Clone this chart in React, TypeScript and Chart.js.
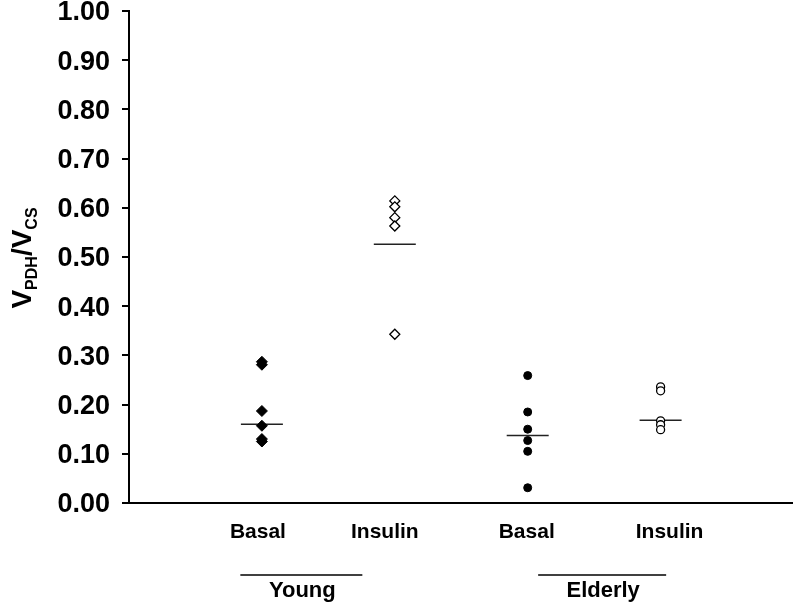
import React, { useEffect, useRef } from "react";
import { Chart, registerables } from "chart.js";

Chart.register(...registerables);

const categories = ["Basal", "Insulin", "Basal", "Insulin"];
const groups = ["Young", "Elderly"];
const youngBasal = [0.287, 0.281, 0.187, 0.157, 0.13, 0.125];
const youngInsulin = [0.614, 0.602, 0.58, 0.563, 0.343];
const elderlyBasal = [0.259, 0.185, 0.15, 0.127, 0.105, 0.031];
const elderlyInsulin = [0.236, 0.228, 0.167, 0.159, 0.149];
const meanValues = [0.16, 0.526, 0.137, 0.168];
const yMin = 0;
const yMax = 1;
const yStep = 0.1;

const FONT = "'Liberation Sans', Arial, Helvetica, sans-serif";

const decorPlugin = {
  id: "decor",
  afterDraw(chart: any) {
    const ctx = chart.ctx;
    const xs = chart.scales.x;
    ctx.save();
    ctx.fillStyle = "#000";
    ctx.strokeStyle = "#000";
    // category labels
    const catOffsets = [-4, -10, -1, 9];
    ctx.font = `bold 21px ${FONT}`;
    ctx.textAlign = "center";
    ctx.textBaseline = "middle";
    categories.forEach((c, i) => {
      ctx.fillText(c, xs.getPixelForValue(i + 1) + catOffsets[i], 532);
    });
    // group lines and labels
    const groupCenterOffsets = [-27, 8];
    const groupHalfWidths = [61, 64];
    groups.forEach((g, gi) => {
      const mid = (xs.getPixelForValue(gi * 2 + 1) + xs.getPixelForValue(gi * 2 + 2)) / 2 + groupCenterOffsets[gi];
      ctx.lineWidth = 1.5;
      ctx.beginPath();
      ctx.moveTo(mid - groupHalfWidths[gi], 575);
      ctx.lineTo(mid + groupHalfWidths[gi], 575);
      ctx.stroke();
      ctx.font = `bold 22px ${FONT}`;
      ctx.fillText(g, mid + 1, 591);
    });
    // y axis title V_PDH / V_CS
    const parts = [
      { t: "V", sub: false },
      { t: "PDH", sub: true },
      { t: "/V", sub: false },
      { t: "CS", sub: true },
    ];
    const big = `bold 28px ${FONT}`;
    const small = `bold 16px ${FONT}`;
    let total = 0;
    parts.forEach((p) => {
      ctx.font = p.sub ? small : big;
      total += ctx.measureText(p.t).width;
    });
    ctx.translate(31, 258);
    ctx.rotate(-Math.PI / 2);
    ctx.textAlign = "left";
    ctx.textBaseline = "alphabetic";
    let x = -total / 2;
    parts.forEach((p) => {
      ctx.font = p.sub ? small : big;
      ctx.fillText(p.t, x, p.sub ? 6 : 0);
      x += ctx.measureText(p.t).width;
    });
    ctx.restore();
  },
};

export default function App() {
  const ref = useRef<HTMLCanvasElement>(null);
  useEffect(() => {
    if (!ref.current) return;
    const pts = (arr: number[], xv: number) => arr.map((v) => ({ x: xv, y: v }));
    const meanSets = meanValues.map((m, i) => ({
      type: "line" as const,
      data: [
        { x: i + 1 - 0.158, y: m },
        { x: i + 1 + 0.158, y: m },
      ],
      borderColor: "#222",
      borderWidth: 1.5,
      pointRadius: 0,
      fill: false,
    }));
    const chart = new Chart(ref.current, {
      type: "scatter",
      data: {
        datasets: [
          {
            data: pts(youngBasal, 1),
            pointStyle: "rectRot",
            pointRadius: 5.5,
            backgroundColor: "#000",
            borderColor: "#000",
            borderWidth: 1,
          },
          {
            data: pts(youngInsulin, 2),
            pointStyle: "rectRot",
            pointRadius: 5,
            backgroundColor: "#fff",
            borderColor: "#000",
            borderWidth: 1.3,
          },
          {
            data: pts(elderlyBasal, 3),
            pointStyle: "circle",
            pointRadius: 4,
            backgroundColor: "#000",
            borderColor: "#000",
            borderWidth: 1,
          },
          {
            data: pts(elderlyInsulin, 4),
            pointStyle: "circle",
            pointRadius: 4,
            backgroundColor: "#fff",
            borderColor: "#000",
            borderWidth: 1.3,
          },
          ...meanSets,
        ] as any,
      },
      options: {
        animation: false,
        responsive: false,
        maintainAspectRatio: false,
        layout: { padding: { top: 11, left: 0, right: 0, bottom: 0 } },
        plugins: {
          legend: { display: false },
          tooltip: { enabled: false },
        },
        scales: {
          x: {
            type: "linear",
            min: 0,
            max: 5,
            grid: { display: false },
            border: { display: true, color: "#000", width: 2 },
            ticks: { display: false },
            afterFit: (s: any) => {
              s.height = 102;
              s.paddingLeft = 0;
              s.paddingRight = 0;
            },
          },
          y: {
            type: "linear",
            min: yMin,
            max: yMax,
            grid: {
              display: true,
              drawOnChartArea: false,
              drawTicks: true,
              tickLength: 7,
              color: "#000",
              lineWidth: 2,
            },
            border: { display: true, color: "#000", width: 2 },
            ticks: {
              stepSize: yStep,
              padding: 12,
              labelOffset: 2,
              color: "#000",
              font: { family: FONT, size: 27, weight: "bold" },
              callback: (v: any) => Number(v).toFixed(2),
            },
            afterFit: (s: any) => {
              s.width = 129;
              s.paddingTop = 0;
              s.paddingBottom = 0;
            },
          },
        },
      } as any,
      plugins: [decorPlugin],
    });
    return () => chart.destroy();
  }, []);
  return (
    <div style={{ position: "absolute", left: 0, top: 0, width: 793, height: 605, overflow: "hidden", background: "#fff" }}>
      <canvas ref={ref} width={800} height={605} />
    </div>
  );
}
